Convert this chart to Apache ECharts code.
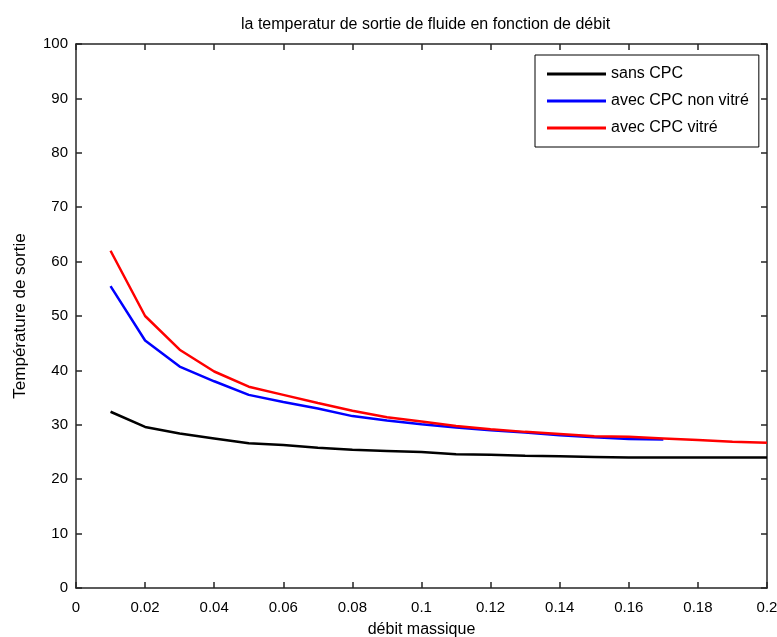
<!DOCTYPE html>
<html><head><meta charset="utf-8">
<script src="https://cdn.jsdelivr.net/npm/echarts@6/dist/echarts.min.js"></script>
<style>html,body{margin:0;padding:0;background:#fff}#c{width:777px;height:637px}</style>
</head><body><div id="c"></div>
<script>
const debit = [0.01,0.02,0.03,0.04,0.05,0.06,0.07,0.08,0.09,0.10,0.11,0.12,0.13,0.14,0.15,0.16,0.17,0.18,0.19,0.20];
const sansCPC = [32.4,29.6,28.4,27.5,26.6,26.3,25.8,25.4,25.2,25.0,24.6,24.5,24.3,24.2,24.1,24.0,24.0,24.0,24.0,24.0];
const avecNonVitre = [55.5,45.5,40.7,38.0,35.5,34.2,33.0,31.6,30.8,30.1,29.5,29.0,28.6,28.1,27.7,27.4,27.3];
const avecVitre = [62.0,50.0,43.8,39.8,37.0,35.5,34.0,32.6,31.4,30.6,29.8,29.2,28.7,28.3,27.9,27.8,27.5,27.2,26.9,26.7];
const seriesNames = ['sans CPC','avec CPC non vitré','avec CPC vitré'];
const titleText = 'la temperatur de sortie de fluide en fonction de débit';
const xName = 'débit massique';
const yName = 'Température de sortie';

function pairs(xs, ys){ return ys.map((v,i)=>[xs[i], v]); }
const F = 'Liberation Sans, Arial, sans-serif';
const axisCol = '#262626';
const chart = echarts.init(document.getElementById('c'), null, {renderer:'canvas'});
const tickInside = {show:true, inside:true, length:6, lineStyle:{color:axisCol, width:1.5}};
const line = {show:true, onZero:false, lineStyle:{color:axisCol, width:1.5}};
chart.setOption({
  animation:false,
  title:{text:titleText, left:236, top:12, textStyle:{fontFamily:F, fontSize:16, fontWeight:'normal', color:'#000'}},
  legend:{
    orient:'vertical', left:535, top:55,
    padding:[11,10,11,12], itemGap:11, itemWidth:59, itemHeight:3,
    borderColor:'#000', borderWidth:1, backgroundColor:'#fff',
    icon:'rect',
    textStyle:{fontFamily:F, fontSize:16, color:'#000', padding:[0,0,0,0]},
    data:seriesNames
  },
  grid:{left:76, right:10, top:44, bottom:49, show:false, containLabel:false, outerBoundsMode:'none'},
  xAxis:[
    {type:'value', min:0, max:0.2, interval:0.02, position:'bottom',
     name:xName, nameLocation:'middle', nameGap:34,
     nameTextStyle:{fontFamily:F, fontSize:16, color:'#000'},
     axisLine:line, axisTick:tickInside, splitLine:{show:false},
     axisLabel:{fontFamily:F, fontSize:15, color:'#000', margin:12}},
    {type:'value', min:0, max:0.2, interval:0.02, position:'top',
     axisLine:line, axisTick:tickInside, splitLine:{show:false}, axisLabel:{show:false}}
  ],
  yAxis:[
    {type:'value', min:0, max:100, interval:10, position:'left',
     name:yName, nameLocation:'middle', nameGap:47, nameRotate:90,
     nameTextStyle:{fontFamily:F, fontSize:17, color:'#000'},
     axisLine:line, axisTick:tickInside, splitLine:{show:false},
     axisLabel:{fontFamily:F, fontSize:15, color:'#000', margin:8}},
    {type:'value', min:0, max:100, interval:10, position:'right',
     axisLine:line, axisTick:tickInside, splitLine:{show:false}, axisLabel:{show:false}}
  ],
  series:[
    {name:seriesNames[0], type:'line', data:pairs(debit, sansCPC), showSymbol:false, symbol:'none', color:'#000000', lineStyle:{width:2.5, color:'#000000'}},
    {name:seriesNames[1], type:'line', data:pairs(debit, avecNonVitre), showSymbol:false, symbol:'none', color:'#0000ff', lineStyle:{width:2.5, color:'#0000ff'}},
    {name:seriesNames[2], type:'line', data:pairs(debit, avecVitre), showSymbol:false, symbol:'none', color:'#ff0000', lineStyle:{width:2.5, color:'#ff0000'}}
  ]
});
</script></body></html>
